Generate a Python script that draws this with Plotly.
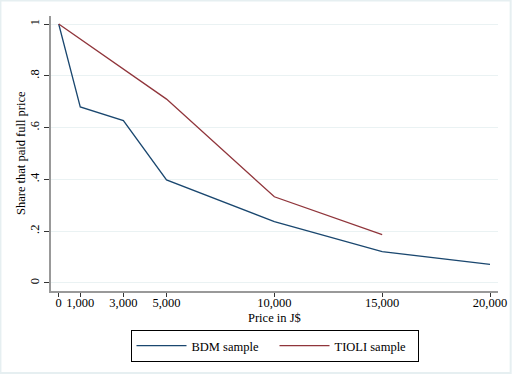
import plotly.graph_objects as go

# Data
bdm_price = [0, 1000, 3000, 5000, 10000, 15000, 20000]
bdm_share = [1.0, 0.68, 0.627, 0.398, 0.237, 0.121, 0.072]
tioli_price = [0, 5000, 10000, 15000]
tioli_share = [1.0, 0.71, 0.333, 0.187]
x_tick_vals = [0, 1000, 3000, 5000, 10000, 15000, 20000]
x_tick_text = ["0", "1,000", "3,000", "5,000", "10,000", "15,000", "20,000"]
y_tick_vals = [0, 0.2, 0.4, 0.6, 0.8, 1.0]
y_tick_text = ["0", ".2", ".4", ".6", ".8", "1"]
x_title = "Price in J$"
y_title = "Share that paid full price"

FONT = "Liberation Serif"
FS = 12.5
W, H = 512, 374
L, R, T, B = 51, 14, 16, 83
pw, ph = W - L - R, H - T - B

fig = go.Figure()
fig.add_trace(go.Scatter(x=bdm_price, y=bdm_share, mode="lines", name="BDM sample",
                         line=dict(color="#1a476f", width=1.3)))
fig.add_trace(go.Scatter(x=tioli_price, y=tioli_share, mode="lines", name="TIOLI sample",
                         line=dict(color="#90353b", width=1.3)))

fig.update_layout(
    width=W, height=H,
    margin=dict(l=L, r=R, t=T, b=B, autoexpand=False),
    paper_bgcolor="white", plot_bgcolor="white",
    font=dict(family=FONT, size=FS, color="black"),
    showlegend=True,
    legend=dict(orientation="h", x=0.5, xanchor="center", y=-39 / ph, yanchor="top",
                bordercolor="black", borderwidth=1, bgcolor="white",
                font=dict(family=FONT, size=FS), itemwidth=50, tracegroupgap=0,
                entrywidth=78),
    xaxis=dict(range=[-357, 20371], tickvals=x_tick_vals, ticktext=x_tick_text,
               automargin=False,
               showgrid=False, zeroline=False, showline=True, linecolor="#999999",
               linewidth=1.5, ticks="outside", ticklen=4, tickcolor="#333333",
               tickfont=dict(size=FS), ticklabelstandoff=-5),
    yaxis=dict(range=[-0.031, 1.031], tickvals=y_tick_vals, ticktext=y_tick_text,
               automargin=False,
               tickangle=-90, showgrid=True, gridcolor="#eaf2f3", gridwidth=1,
               zeroline=False, showline=True, linecolor="#999999", linewidth=1.5,
               ticks="outside", ticklen=5, tickcolor="#333333",
               tickfont=dict(size=FS)),
)

# axis titles
fig.add_annotation(text=x_title, xref="paper", yref="paper",
                   x=(274 - L) / pw, y=-(318 - (H - B)) / ph,
                   xanchor="center", yanchor="middle", showarrow=False,
                   font=dict(family=FONT, size=FS))
fig.add_annotation(text=y_title, xref="paper", yref="paper", textangle=-90,
                   x=-(L - 21) / pw, y=1 - (153 - T) / ph,
                   xanchor="center", yanchor="middle", showarrow=False,
                   font=dict(family=FONT, size=FS))

# light outer frame
fig.add_shape(type="rect", xref="paper", yref="paper",
              x0=-L / pw + 0.001, x1=1 + R / pw - 0.003,
              y0=-B / ph + 0.004, y1=1 + T / ph - 0.002,
              line=dict(color="#e6eff1", width=2), fillcolor="rgba(0,0,0,0)", layer="below")

fig.write_html("out.html", config={"displayModeBar": False},
               post_script="document.body.style.margin='0';document.body.style.overflow='hidden';")
